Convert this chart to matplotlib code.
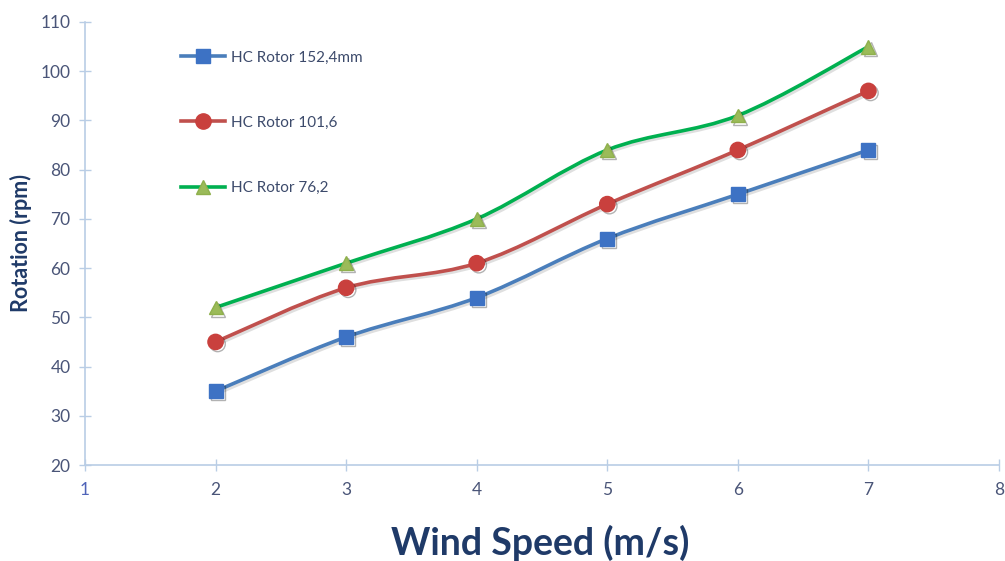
import numpy as np
import matplotlib.pyplot as plt
from matplotlib.path import Path
from matplotlib.patches import PathPatch
from matplotlib.lines import Line2D
import matplotlib.patheffects as pe

# data
wind = [2, 3, 4, 5, 6, 7]
rotor_152 = [35, 46, 54, 66, 75, 84]
rotor_101 = [45, 56, 61, 73, 84, 96]
rotor_76 = [52, 61, 70, 84, 91, 105]
labels = ['HC Rotor 152,4mm', 'HC Rotor 101,6', 'HC Rotor 76,2']

plt.rcParams['font.family'] = ['Lato', 'DejaVu Sans']


def smooth_path(x, y):
    # excel-like smoothed line: cubic bezier segments through the points
    pts = np.column_stack([np.asarray(x, float), np.asarray(y, float)])
    n = len(pts)
    verts = [pts[0]]
    codes = [Path.MOVETO]
    for i in range(n - 1):
        p0 = pts[i - 1] if i > 0 else pts[i]
        p1 = pts[i]
        p2 = pts[i + 1]
        p3 = pts[i + 2] if i + 2 < n else pts[i + 1]
        verts += [p1 + (p2 - p0) / 6.0, p2 - (p3 - p1) / 6.0, p2]
        codes += [Path.CURVE4] * 3
    return Path(verts, codes)


fig = plt.figure(figsize=(10.05, 5.61), dpi=100)
ax = fig.add_axes([85 / 1005, 1 - 465 / 561, (999 - 85) / 1005, (465 - 22) / 561])

series = [
    (rotor_152, '#4a7ebb', 's', '#3d72c4', '#3d72c4', 10),
    (rotor_101, '#c0504d', 'o', '#c9403d', '#c9403d', 11),
    (rotor_76, '#00b050', '^', '#9bbb59', '#8fb04c', 10),
]

handles = []
for (vals, lc, mk, mfc, mec, ms), lab in zip(series, labels):
    patch = PathPatch(smooth_path(wind, vals), facecolor='none', edgecolor=lc,
                      lw=2.6, transform=ax.transData, zorder=2,
                      path_effects=[pe.Stroke(offset=(1.5, -1.5), foreground='gray', alpha=0.25),
                                    pe.Normal()])
    ax.add_patch(patch)
    ax.plot(wind, vals, ls='none', marker=mk, ms=ms, mfc=mfc, mec=mec, zorder=3,
            path_effects=[pe.SimpleLineShadow(offset=(1.5, -1.5), alpha=0.3), pe.Normal()])
    handles.append(Line2D([], [], color=lc, lw=2.6, marker=mk, ms=ms, mfc=mfc, mec=mec))

ax.set_xlim(1, 8)
ax.set_ylim(20, 110)
ax.set_xticks(range(1, 9))
ax.set_yticks(range(20, 111, 10))

axis_col = '#b9cde5'
for s in ['top', 'right']:
    ax.spines[s].set_visible(False)
for s in ['left', 'bottom']:
    ax.spines[s].set_color(axis_col)
    ax.spines[s].set_linewidth(1.2)
ax.tick_params(direction='inout', length=9, width=1, color=axis_col,
               labelcolor='#4a5578', labelsize=12.5)
ax.tick_params(axis='y', pad=6)
ax.tick_params(axis='x', pad=8)
ax.get_xticklabels()[0].set_color('#4f63b8')

ax.set_ylabel('Rotation (rpm)', fontsize=15.5, fontweight='bold', color='#1f3a68', labelpad=6)
fig.text(540 / 1005, 1 - 543 / 561, 'Wind Speed (m/s)', fontsize=27, fontweight='bold',
         color='#1f3a68', ha='center', va='center')

leg = ax.legend(handles, labels, loc='upper left', bbox_to_anchor=(173 / 1005, 1 - 43 / 561),
                bbox_transform=fig.transFigure, frameon=False, fontsize=11,
                labelspacing=3.35, handlelength=2.9, handletextpad=0.4, borderpad=0)
for t in leg.get_texts():
    t.set_color('#3c4a6b')

fig.savefig('out.png', dpi=100)
